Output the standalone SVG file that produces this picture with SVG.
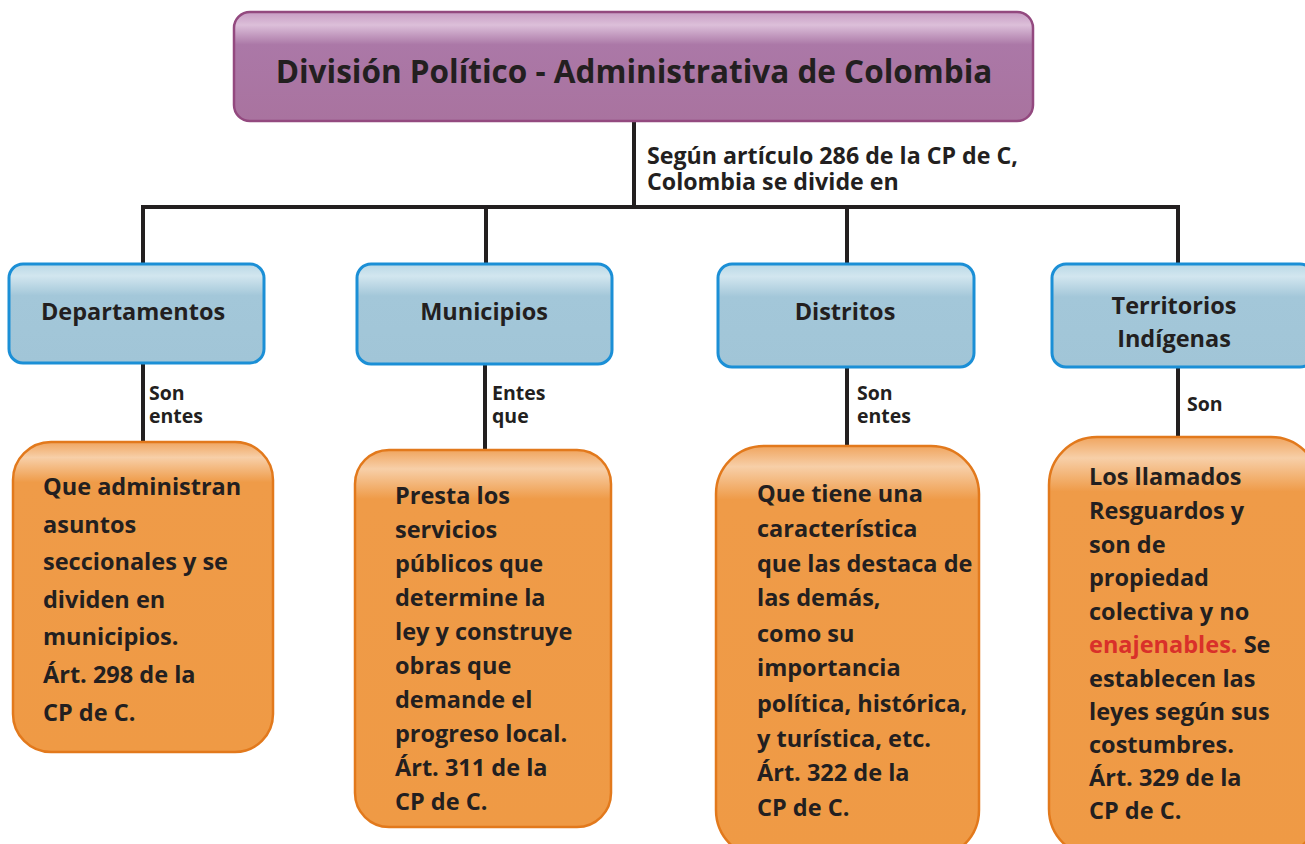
<svg xmlns="http://www.w3.org/2000/svg" width="1305" height="844" viewBox="0 0 1305 844">
<defs>
<linearGradient id="gPurple" x1="0" y1="0" x2="0" y2="1">
<stop offset="0" stop-color="#c79cc3"/>
<stop offset="0.12" stop-color="#dcbfd9"/>
<stop offset="0.3" stop-color="#ab78a7"/>
<stop offset="1" stop-color="#a9739f"/>
</linearGradient>
<linearGradient id="gBlue" x1="0" y1="0" x2="0" y2="1">
<stop offset="0" stop-color="#b9d8e6"/>
<stop offset="0.12" stop-color="#d2e6ef"/>
<stop offset="0.32" stop-color="#a3c7d9"/>
<stop offset="1" stop-color="#a1c5d7"/>
</linearGradient>
<linearGradient id="gOrange" x1="0" y1="0" x2="0" y2="1">
<stop offset="0" stop-color="#f0a55f"/>
<stop offset="0.05" stop-color="#f7cfa8"/>
<stop offset="0.13" stop-color="#ef9b48"/>
<stop offset="1" stop-color="#ef9a45"/>
</linearGradient>
</defs>
<style>
text{font-family:"Open Sans","Liberation Sans",sans-serif;font-weight:700;fill:#231f20}
.title{font-size:31.5px}
.lbl{font-size:19.5px}
.lbl2{font-size:23.2px}
.blue-t{font-size:23.5px}
.body{font-size:23.5px}
.red{fill:#d9302a}
.purple{fill:url(#gPurple);stroke:#93497f;stroke-width:2.5}
.blue{fill:url(#gBlue);stroke:#1b8fd6;stroke-width:3}
.orange{fill:url(#gOrange);stroke:#e2791c;stroke-width:2.5}
.conn{stroke:#231f20;stroke-width:4;fill:none}
</style>
<rect width="1305" height="844" fill="#ffffff"/>
<g id="connectors">
<path class="conn" d="M634 121V207M143 207H1180M143 205V264M486 207V264M847 207V264M1178 205V264"/>
<path class="conn" d="M143 363V443M485 363V450M847 367V446M1178 367V437"/>
<text class="lbl2" x="647" y="164">Según artículo 286 de la CP de C,</text>
<text class="lbl2" x="647" y="190">Colombia se divide en</text>
<text class="lbl" x="149" y="400">Son</text>
<text class="lbl" x="149" y="423">entes</text>
<text class="lbl" x="492" y="400">Entes</text>
<text class="lbl" x="492" y="423">que</text>
<text class="lbl" x="857" y="400">Son</text>
<text class="lbl" x="857" y="423">entes</text>
<text class="lbl" x="1187" y="411">Son</text>
</g>
<g id="title">
<rect class="purple" x="234" y="12" width="799" height="109" rx="16"/>
<text class="title" x="634" y="83" text-anchor="middle">División Político - Administrativa de Colombia</text>
</g>
<g id="departamentos">
<rect class="blue" x="9" y="264" width="255" height="99" rx="14"/>
<text class="blue-t" x="133" y="320" text-anchor="middle">Departamentos</text>
</g>
<g id="municipios">
<rect class="blue" x="357" y="264" width="255" height="100" rx="14"/>
<text class="blue-t" x="484" y="320" text-anchor="middle">Municipios</text>
</g>
<g id="distritos">
<rect class="blue" x="718" y="264" width="256" height="103" rx="14"/>
<text class="blue-t" x="845" y="320" text-anchor="middle">Distritos</text>
</g>
<g id="territorios">
<rect class="blue" x="1052" y="264" width="262" height="103" rx="14"/>
<text class="blue-t" x="1174" y="314" text-anchor="middle">Territorios</text>
<text class="blue-t" x="1174" y="347" text-anchor="middle">Indígenas</text>
</g>
<g id="dep-desc">
<rect class="orange" x="13" y="442" width="260" height="310" rx="38"/>
<text class="body">
<tspan x="43" y="495">Que administran</tspan>
<tspan x="43" y="533">asuntos</tspan>
<tspan x="43" y="570">seccionales y se</tspan>
<tspan x="43" y="608">dividen en</tspan>
<tspan x="43" y="645">municipios.</tspan>
<tspan x="43" y="683">Árt. 298 de la</tspan>
<tspan x="43" y="721">CP de C.</tspan>
</text>
</g>
<g id="mun-desc">
<rect class="orange" x="355" y="450" width="256" height="377" rx="34"/>
<text class="body">
<tspan x="395" y="504">Presta los</tspan>
<tspan x="395" y="538">servicios</tspan>
<tspan x="395" y="572">públicos que</tspan>
<tspan x="395" y="606">determine la</tspan>
<tspan x="395" y="640">ley y construye</tspan>
<tspan x="395" y="674">obras que</tspan>
<tspan x="395" y="708">demande el</tspan>
<tspan x="395" y="742">progreso local.</tspan>
<tspan x="395" y="776">Árt. 311 de la</tspan>
<tspan x="395" y="810">CP de C.</tspan>
</text>
</g>
<g id="dis-desc">
<rect class="orange" x="716" y="446" width="263" height="412" rx="48"/>
<text class="body">
<tspan x="757" y="502">Que tiene una</tspan>
<tspan x="757" y="537">característica</tspan>
<tspan x="757" y="572">que las destaca de</tspan>
<tspan x="757" y="606">las demás,</tspan>
<tspan x="757" y="642">como su</tspan>
<tspan x="757" y="676">importancia</tspan>
<tspan x="757" y="712">política, histórica,</tspan>
<tspan x="757" y="747">y turística, etc.</tspan>
<tspan x="757" y="781">Árt. 322 de la</tspan>
<tspan x="757" y="816">CP de C.</tspan>
</text>
</g>
<g id="ter-desc">
<rect class="orange" x="1049" y="437" width="270" height="420" rx="48"/>
<text class="body">
<tspan x="1089" y="485">Los llamados</tspan>
<tspan x="1089" y="519">Resguardos y</tspan>
<tspan x="1089" y="553">son de</tspan>
<tspan x="1089" y="586">propiedad</tspan>
<tspan x="1089" y="620">colectiva y no</tspan>
<tspan x="1089" y="653" class="red">enajenables.</tspan><tspan> Se</tspan>
<tspan x="1089" y="687">establecen las</tspan>
<tspan x="1089" y="720">leyes según sus</tspan>
<tspan x="1089" y="753">costumbres.</tspan>
<tspan x="1089" y="786">Árt. 329 de la</tspan>
<tspan x="1089" y="819">CP de C.</tspan>
</text>
</g>
</svg>
